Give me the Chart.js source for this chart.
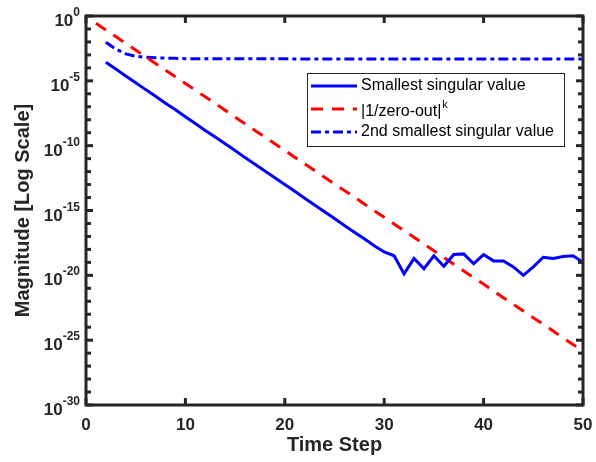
<!DOCTYPE html>
<html>
<head>
<meta charset="utf-8">
<script src="https://cdn.jsdelivr.net/npm/chart.js@4"></script>
<style>
  html, body { margin: 0; padding: 0; background: #fff; }
</style>
</head>
<body>
<canvas id="chart" width="596" height="462"></canvas>
<script>
// time steps 1..50
var steps = [1, 2, 3, 4, 5, 6, 7, 8, 9, 10, 11, 12, 13, 14, 15, 16, 17, 18, 19, 20,
  21, 22, 23, 24, 25, 26, 27, 28, 29, 30, 31, 32, 33, 34, 35, 36, 37, 38, 39, 40,
  41, 42, 43, 44, 45, 46, 47, 48, 49, 50];

var smallest = [null, 2.7e-4, 8.1e-5, 2.4e-5, 7.2e-6, 2.1e-6, 6.5e-7, 1.9e-7, 5.8e-8, 1.7e-8,
  5.1e-9, 1.5e-9, 4.7e-10, 1.4e-10, 4.2e-11, 1.2e-11, 3.7e-12, 1.1e-12, 3.3e-13, 1.0e-13,
  3.0e-14, 8.9e-15, 2.7e-15, 7.9e-16, 2.4e-16, 7.1e-17, 2.1e-17, 6.5e-18, 1.9e-18, 6.3e-19,
  3.2e-19, 1.3e-20, 2.0e-19, 3.2e-20, 3.2e-19, 5.0e-20, 4.0e-19, 4.5e-19, 7.9e-20, 4.0e-19,
  1.3e-19, 1.3e-19, 4.5e-20, 1.0e-20, 4.5e-20, 2.5e-19, 2.0e-19, 2.8e-19, 3.2e-19, 1.0e-19];

var zeroOut = [2.75e-1, 8.4e-2, 2.6e-2, 7.8e-3, 2.4e-3, 7.2e-4, 2.2e-4, 6.7e-5, 2.1e-5, 6.3e-6,
  1.9e-6, 5.8e-7, 1.8e-7, 5.4e-8, 1.6e-8, 5.0e-9, 1.5e-9, 4.7e-10, 1.4e-10, 4.3e-11,
  1.3e-11, 4.0e-12, 1.2e-12, 3.7e-13, 1.1e-13, 3.5e-14, 1.1e-14, 3.2e-15, 9.8e-16, 3.0e-16,
  9.1e-17, 2.8e-17, 8.5e-18, 2.6e-18, 7.9e-19, 2.4e-19, 7.3e-20, 2.2e-20, 6.8e-21, 2.1e-21,
  6.3e-22, 1.9e-22, 5.9e-23, 1.8e-23, 5.4e-24, 1.7e-24, 5.1e-25, 1.5e-25, 4.7e-26, 1.4e-26];

var second = [null, 9.3e-3, 2.8e-3, 1.2e-3, 7.9e-4, 6.6e-4, 6.0e-4, 5.6e-4, 5.4e-4, 5.1e-4,
  5.0e-4, 5.0e-4, 5.0e-4, 5.0e-4, 5.0e-4, 5.0e-4, 5.0e-4, 5.0e-4, 5.0e-4, 5.0e-4,
  4.9e-4, 4.9e-4, 4.9e-4, 4.9e-4, 4.9e-4, 4.9e-4, 4.9e-4, 4.9e-4, 4.9e-4, 4.9e-4,
  4.9e-4, 4.9e-4, 4.9e-4, 4.9e-4, 4.9e-4, 4.9e-4, 4.9e-4, 4.9e-4, 4.9e-4, 4.9e-4,
  4.9e-4, 4.9e-4, 4.9e-4, 4.9e-4, 4.9e-4, 4.9e-4, 4.9e-4, 4.9e-4, 4.9e-4, 4.9e-4];

var xTicks = [0, 10, 20, 30, 40, 50];
var yTickExps = ['0', '-5', '-10', '-15', '-20', '-25', '-30'];
var legendNames = ['Smallest singular value', '|1/zero-out|', '2nd smallest singular value'];

var FONT = "'Liberation Sans', Arial, sans-serif";
var AX = '#262626';

function pts(arr) {
  return steps.map(function (s, i) { return { x: s, y: arr[i] }; });
}

function seg(ctx, x1, y1, x2, y2) {
  ctx.beginPath();
  ctx.moveTo(x1, y1);
  ctx.lineTo(x2, y2);
  ctx.stroke();
}

// axes box, ticks, labels, titles and legend drawn on top of the data
var matlabAxes = {
  id: 'matlabAxes',
  afterDraw: function (chart) {
    var ctx = chart.ctx, a = chart.chartArea;
    var xs = chart.scales.x, ys = chart.scales.y;
    ctx.save();
    ctx.strokeStyle = AX;
    ctx.fillStyle = AX;
    ctx.lineWidth = 3;
    ctx.setLineDash([]);
    ctx.strokeRect(a.left, a.top, a.right - a.left, a.bottom - a.top);

    // y ticks, one per decade
    ctx.lineWidth = 3;
    for (var e = 0; e >= -30; e--) {
      var y = ys.getPixelForValue(Math.pow(10, e));
      var len = (e % 5 === 0) ? 7 : 5;
      seg(ctx, a.left, y, a.left + len, y);
      seg(ctx, a.right, y, a.right - len, y);
    }
    // x ticks
    xTicks.forEach(function (v) {
      var x = xs.getPixelForValue(v);
      seg(ctx, x, a.bottom, x, a.bottom - 7);
      seg(ctx, x, a.top, x, a.top + 7);
    });

    // x tick labels
    ctx.font = 'bold 17px ' + FONT;
    ctx.textAlign = 'center';
    ctx.textBaseline = 'alphabetic';
    xTicks.forEach(function (v) {
      ctx.fillText(String(v), xs.getPixelForValue(v), 430);
    });

    // y tick labels 10^e
    yTickExps.forEach(function (e) {
      var y = ys.getPixelForValue(Math.pow(10, Number(e)));
      ctx.font = 'bold 12px ' + FONT;
      var w = ctx.measureText(e).width;
      var supLeft = 80 - w;
      ctx.textAlign = 'left';
      ctx.fillText(e, supLeft, y);
      ctx.font = 'bold 17px ' + FONT;
      ctx.textAlign = 'right';
      ctx.fillText('10', supLeft, y + 10);
    });

    // axis titles
    ctx.font = 'bold 20px ' + FONT;
    ctx.textAlign = 'center';
    ctx.fillText('Time Step', (a.left + a.right) / 2, 451);
    ctx.save();
    ctx.translate(29, (a.top + a.bottom) / 2);
    ctx.rotate(-Math.PI / 2);
    ctx.fillText('Magnitude [Log Scale]', 0, 0);
    ctx.restore();

    // legend
    var bx = 307, by = 73, bw = 257, bh = 73;
    ctx.fillStyle = '#fff';
    ctx.fillRect(bx, by, bw, bh);
    ctx.lineWidth = 1;
    ctx.strokeStyle = AX;
    ctx.strokeRect(bx + 0.5, by + 0.5, bw, bh);
    var rows = [86, 109, 132];
    var textY = [86, 112, 132];
    chart.data.datasets.forEach(function (ds, i) {
      ctx.strokeStyle = ds.borderColor;
      ctx.lineWidth = ds.borderWidth;
      ctx.setLineDash(ds.borderDash || []);
      seg(ctx, 311, rows[i], 357, rows[i]);
      ctx.setLineDash([]);
      ctx.fillStyle = '#000';
      ctx.font = '16px ' + FONT;
      ctx.textAlign = 'left';
      ctx.textBaseline = 'middle';
      ctx.fillText(legendNames[i], 361, textY[i]);
      if (i === 1) {
        var tw = ctx.measureText(legendNames[i]).width;
        ctx.font = '11px ' + FONT;
        ctx.fillText('k', 361 + tw + 1, textY[i] - 7);
      }
    });
    ctx.restore();
  }
};

new Chart(document.getElementById('chart'), {
  type: 'line',
  data: {
    datasets: [
      { label: legendNames[0], data: pts(smallest), borderColor: '#0000ff', borderWidth: 3 },
      { label: legendNames[1], data: pts(zeroOut), borderColor: '#ff0000', borderWidth: 3, borderDash: [12, 9] },
      { label: legendNames[2], data: pts(second), borderColor: '#0000ff', borderWidth: 3, borderDash: [10, 4, 4, 4] }
    ]
  },
  options: {
    responsive: false,
    animation: false,
    devicePixelRatio: 1,
    layout: { padding: { left: 86, right: 13, top: 16, bottom: 57 } },
    elements: { point: { radius: 0 }, line: { tension: 0, fill: false } },
    plugins: { legend: { display: false }, tooltip: { enabled: false } },
    scales: {
      x: { type: 'linear', min: 0, max: 50, display: false },
      y: { type: 'logarithmic', min: 1e-30, max: 1, display: false }
    }
  },
  plugins: [matlabAxes]
});
</script>
</body>
</html>
